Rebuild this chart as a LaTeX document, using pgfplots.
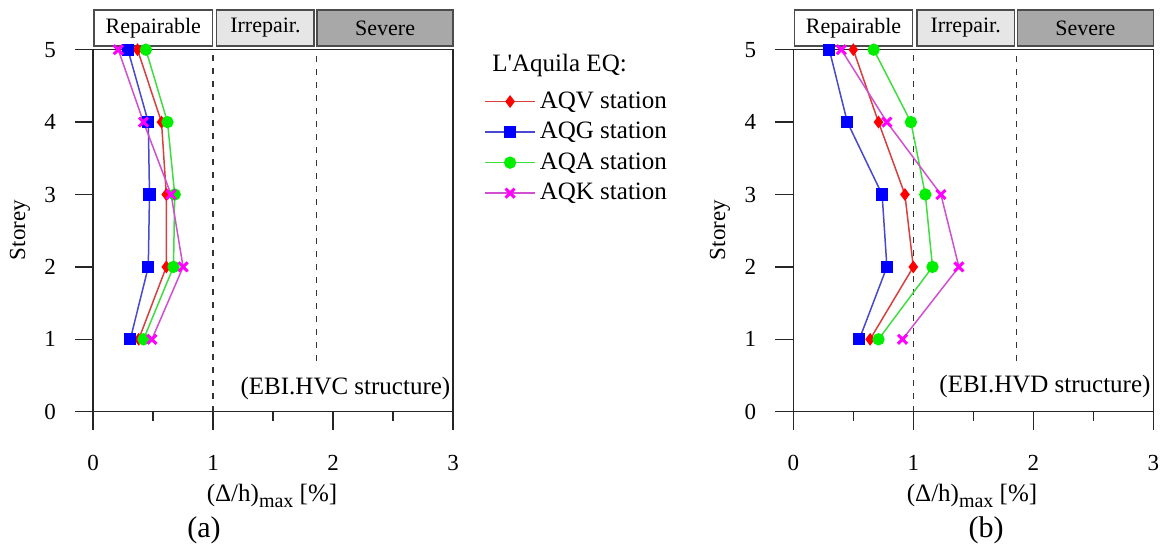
\documentclass[border=0pt]{standalone}
\usepackage{pgfplots}
\pgfplotsset{compat=1.18}
\usepackage{fontspec}
\setmainfont{Liberation Serif}[Ligatures=TeXOff]

\definecolor{lR}{HTML}{D84040}
\definecolor{mR}{HTML}{FF0000}
\definecolor{lB}{HTML}{4848D0}
\definecolor{mB}{HTML}{0000FF}
\definecolor{lG}{HTML}{40DD40}
\definecolor{mG}{HTML}{00EE00}
\definecolor{lM}{HTML}{D050D0}
\definecolor{mM}{HTML}{FF00FF}
\definecolor{boxL}{HTML}{E6E6E6}
\definecolor{boxD}{HTML}{A8A8A8}

\pgfplotstableread{
y AQV AQG AQA AQK
1 0.38 0.31 0.42 0.49
2 0.61 0.46 0.67 0.75
3 0.61 0.47 0.68 0.65
4 0.57 0.46 0.62 0.42
5 0.37 0.29 0.44 0.21
}\dataA

\pgfplotstableread{
y AQV AQG AQA AQK
1 0.64 0.55 0.71 0.91
2 1.00 0.78 1.16 1.38
3 0.93 0.74 1.10 1.23
4 0.71 0.45 0.98 0.78
5 0.50 0.30 0.67 0.40
}\dataB

\pgfplotsset{
  myaxis/.style={
    scale only axis, width=180pt, height=181pt,
    anchor=south west,
    xmin=0, xmax=3, ymin=0, ymax=5,
    xtick={0,1,2,3}, minor xtick={0.5,1.5,2.5},
    ytick={0,1,2,3,4,5},
    xticklabels={}, yticklabels={},
    tick pos=left, tick align=outside,
    major tick length=9pt, minor tick length=4.5pt,
    every tick/.style={black!85, line width=0.65pt},
    axis line style={black!85, line width=0.7pt},
    clip=false,
  },
  sAQV/.style={draw=lR, line width=0.75pt, mark=diamond*, mark size=2.6pt, mark options={fill=mR, draw=mR, solid}},
  sAQG/.style={draw=lB, line width=0.75pt, mark=square*, mark size=2.7pt, mark options={fill=mB, draw=mB, solid}},
  sAQA/.style={draw=lG, line width=0.75pt, mark=*, mark size=2.7pt, mark options={fill=mG, draw=mG, solid}},
  sAQK/.style={draw=lM, line width=0.75pt, mark=x, mark size=3.2pt, mark options={draw=mM, line width=1.5pt, solid}},
}

\newcommand{\dsboxes}{%
  \draw[black!70, line width=0.65pt, fill=white] (axis cs:0.0075,5.05) rectangle (axis cs:0.996,5.55) node[midway, text=black, font=\fontsize{11}{13}\selectfont] {Repairable};
  \draw[black!70, line width=0.65pt, fill=boxL] (axis cs:1.03,5.05) rectangle (axis cs:1.842,5.55) node[midway, text=black, font=\fontsize{11}{13}\selectfont] {Irrepair.};
  \draw[black!70, line width=0.65pt, fill=boxD] (axis cs:1.867,5.05) rectangle (axis cs:3.0,5.55) node[midway, text=black, font=\fontsize{11}{13}\selectfont] {Severe};
  \draw[black!80, dash pattern=on 3pt off 3.5pt, line width=0.7pt] (axis cs:1,0) -- (axis cs:1,5);
  \draw[black!80, dash pattern=on 3pt off 3.5pt, line width=0.7pt] (axis cs:1.86,0.70) -- (axis cs:1.86,5);
  \pgfplotsinvokeforeach{0,1,2,3}{\node[font=\fontsize{11.5}{13}\selectfont, inner sep=0pt] at ([yshift=-25.7pt]axis cs:##1,0) {##1};}
  \pgfplotsinvokeforeach{0,1,2,3,4,5}{\node[font=\fontsize{11.5}{13}\selectfont, inner sep=0pt] at ([xshift=-21.5pt]axis cs:0,##1) {##1};}
}

\begin{document}
\begin{tikzpicture}[x=1pt,y=1pt]
\useasboundingbox (0,0) rectangle (580,276);

\begin{axis}[myaxis, at={(46.55pt,70.15pt)},
  legend style={draw=none, fill=none, at={(1.069,0.907)}, anchor=north west,
    font=\fontsize{12.5}{14}\selectfont, row sep=1.5pt},
  legend cell align=left,
  legend image code/.code={\draw[mark repeat=2, mark phase=2, #1] plot coordinates {(0pt,0pt) (12.5pt,0pt) (25pt,0pt)};},
]
\dsboxes
\addplot[sAQV] table[x=AQV, y=y] {\dataA};
\addplot[sAQG] table[x=AQG, y=y] {\dataA};
\addplot[sAQA] table[x=AQA, y=y] {\dataA};
\addplot[sAQK] table[x=AQK, y=y] {\dataA};
\legend{AQV station, AQG station, AQA station, AQK station}
\node[anchor=east, font=\fontsize{12.5}{14}\selectfont, inner sep=0pt] at (axis cs:2.98,0.32) {(EBI.HVC structure)};
\end{axis}

\begin{axis}[myaxis, at={(396.65pt,70.15pt)}]
\dsboxes
\addplot[sAQV] table[x=AQV, y=y] {\dataB};
\addplot[sAQG] table[x=AQG, y=y] {\dataB};
\addplot[sAQA] table[x=AQA, y=y] {\dataB};
\addplot[sAQK] table[x=AQK, y=y] {\dataB};
\node[anchor=east, font=\fontsize{12.5}{14}\selectfont, inner sep=0pt] at (axis cs:2.98,0.35) {(EBI.HVD structure)};
\end{axis}

% titles / labels
\node[anchor=west, font=\fontsize{12.5}{14}\selectfont, inner sep=0pt] at (246,243.5) {L'Aquila EQ:};
\node[rotate=90, font=\fontsize{11.5}{13}\selectfont] at (10,161) {Storey};
\node[rotate=90, font=\fontsize{11.5}{13}\selectfont] at (360,161) {Storey};
\node[font=\fontsize{12.5}{14}\selectfont] at (136,28) {(Δ/h)\raisebox{-0.45ex}{\fontsize{10}{11}\selectfont max} [\%]};
\node[font=\fontsize{12.5}{14}\selectfont] at (486,28) {(Δ/h)\raisebox{-0.45ex}{\fontsize{10}{11}\selectfont max} [\%]};
\node[font=\fontsize{15}{17}\selectfont] at (102,11) {(a)};
\node[font=\fontsize{15}{17}\selectfont] at (493,11) {(b)};
\end{tikzpicture}
\end{document}
